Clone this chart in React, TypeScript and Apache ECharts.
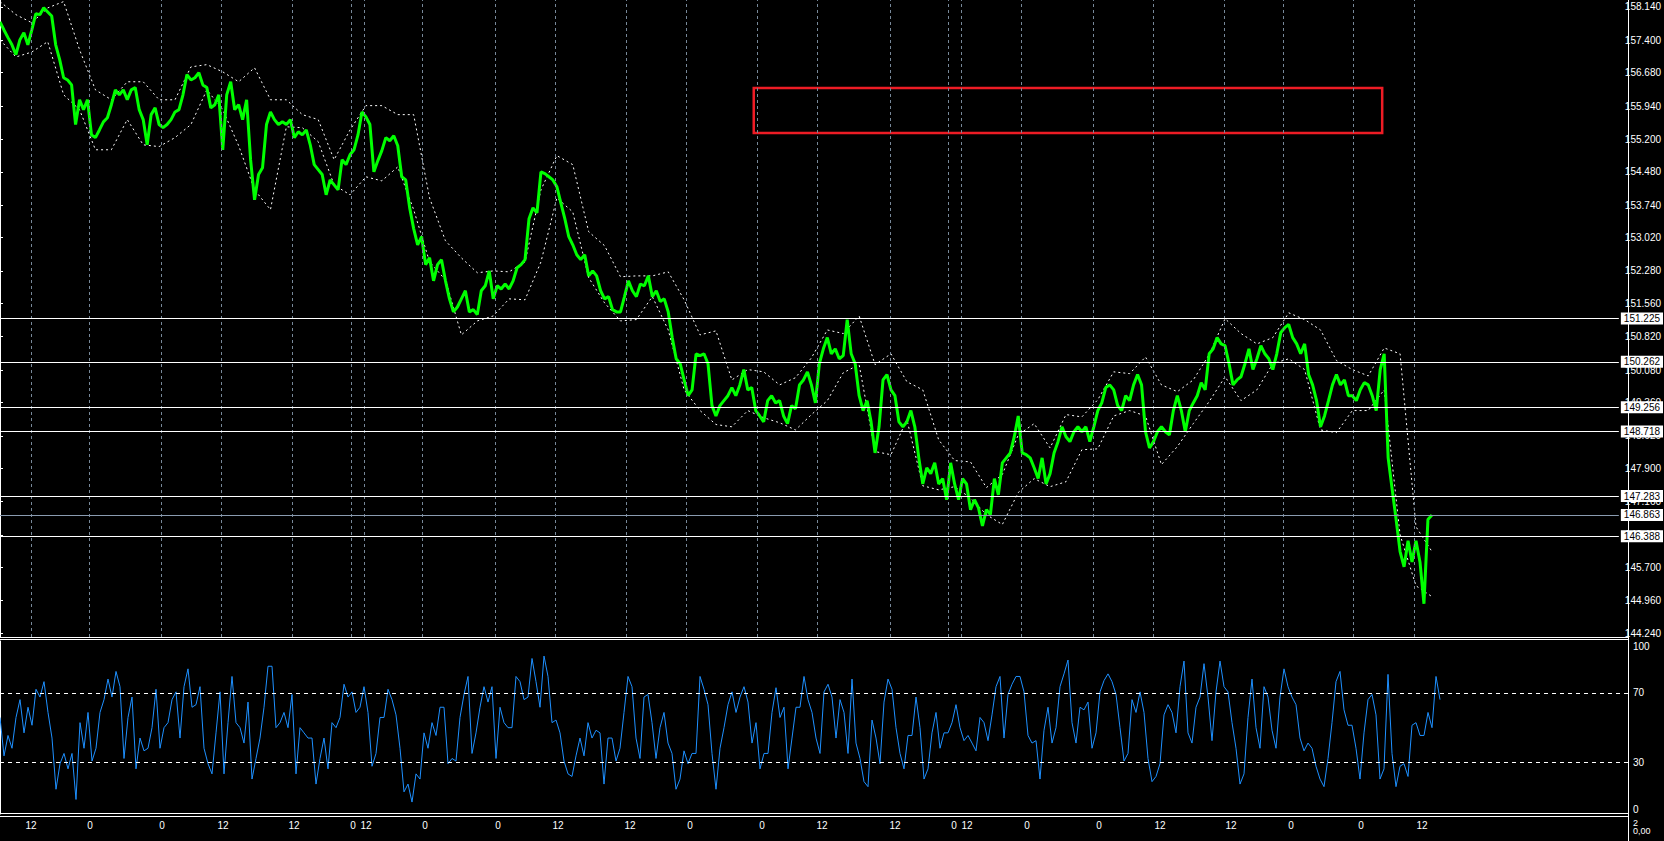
import React, { useEffect, useRef } from "react";
import * as echarts from "echarts";

// ---- data (bar index: one bar per step on the time axis) ----
const closePrices = [
  157.81,157.63,157.46,157.30,157.08,157.41,157.57,157.30,157.63,157.99,
  157.97,158.12,158.03,157.94,157.30,156.97,156.57,156.52,156.41,155.53,
  156.08,155.86,156.08,155.30,155.24,155.41,155.59,155.68,155.97,156.30,
  156.19,156.30,156.08,156.30,156.35,155.86,155.64,155.08,155.75,155.90,
  155.53,155.46,155.53,155.64,155.81,155.86,156.19,156.64,156.52,156.57,
  156.68,156.41,156.35,155.90,155.97,156.19,154.97,156.19,156.48,155.86,
  155.97,155.64,156.08,154.75,153.86,154.42,154.57,155.53,155.81,155.64,
  155.53,155.59,155.53,155.64,155.24,155.37,155.30,155.41,155.08,154.64,
  154.53,154.42,153.97,154.30,154.19,154.08,154.75,154.64,154.86,154.97,
  155.30,155.81,
  155.70,155.53,154.48,154.73,154.95,155.24,155.17,155.28,155.06,154.37,
  154.30,153.68,153.22,152.86,153.04,152.42,152.57,152.06,152.42,152.53,
  152.06,151.66,151.37,151.48,151.66,151.84,151.37,151.42,151.31,151.84,
  151.95,152.28,151.66,151.95,151.88,151.99,151.88,152.06,152.35,152.42,
  152.53,153.44,153.68,153.57,154.48,154.44,154.37,154.30,154.15,153.79,
  153.44,153.04,152.86,152.64,152.53,152.64,152.17,152.28,152.17,151.84,
  151.66,151.71,151.42,151.37,151.37,151.71,152.06,151.84,151.71,151.99,
  151.95,152.17,151.71,151.84,151.60,151.66,151.37,150.80,150.33,150.22,
  149.86,149.51,149.64,150.44,150.40,150.44,150.22,149.29,149.06,149.29,
  149.40,149.51,149.69,149.51,149.75,150.09,149.64,149.69,149.18,149.06,
  148.93,149.40,149.51,149.35,149.40,149.06,148.89,149.29,149.22,149.75,
  149.86,150.04,149.75,149.35,150.22,150.55,150.80,150.44,150.55,150.33,
  150.40,151.20,150.44,150.22,149.51,149.18,149.40,148.93,148.24,148.82,
  149.86,149.98,149.64,149.51,148.93,148.82,148.93,149.18,148.82,148.13,
  147.55,147.91,147.78,148.02,147.55,147.67,147.20,148.02,147.55,147.20,
  147.67,147.55,146.98,147.20,147.02,146.62,146.98,146.87,147.67,147.31,
  148.02,148.13,148.24,148.60,149.06,148.24,148.20,148.13,147.91,147.67,
  148.13,147.55,147.78,148.24,148.49,148.82,148.60,148.49,148.71,148.82,
  148.71,148.82,148.49,148.82,149.18,149.35,149.69,149.75,149.64,149.29,
  149.18,149.51,149.40,149.75,149.98,149.75,148.71,148.35,148.49,148.71,
  148.82,148.71,148.64,149.18,149.51,149.18,148.71,149.18,149.35,149.51,
  149.80,149.64,150.44,150.55,150.80,150.66,150.62,150.22,149.75,149.86,
  149.93,150.22,150.55,150.09,150.33,150.62,150.44,150.33,150.09,150.44,
  150.91,151.02,151.09,150.80,150.66,150.44,150.66,149.98,149.75,149.40,
  148.82,149.06,149.40,149.75,149.98,149.75,149.86,149.51,149.51,149.40,
  149.64,149.80,149.75,149.51,149.18,150.09,150.44,148.13,147.44,146.76,
  146.05,145.71,146.29,145.82,146.29,145.82,144.89,146.76,146.86,
];

// band values, one every BAND_STEP bars
const BAND_STEP = 4;
const upperBand = [
  158.26,157.97,157.79,158.12,158.26,157.19,156.30,156.08,156.48,156.48,156.08,156.08,156.81,156.86,156.70,156.48,156.79,156.08,156.08,155.75,155.64,154.75,155.41,
  155.95,155.95,155.75,155.75,153.90,152.95,152.57,152.24,152.28,152.26,152.48,154.08,154.84,154.64,153.15,152.84,152.15,152.17,152.17,152.26,151.64,150.86,150.95,
  149.86,150.09,150.04,149.75,149.91,150.35,150.97,150.89,151.28,150.20,150.44,149.82,149.64,148.53,148.07,148.04,147.47,147.76,148.64,148.89,148.35,149.09,
  149.04,149.42,150.04,150.00,150.37,149.75,149.60,149.86,150.42,151.22,150.89,150.66,150.80,151.35,151.20,150.97,150.29,150.09,149.95,150.57,150.44,146.60,146.05,
];
const lowerBand = [
  157.41,157.03,157.14,157.37,156.19,155.86,154.97,154.97,155.64,155.08,155.04,155.24,155.53,156.30,155.86,155.06,154.08,153.64,155.48,155.46,155.15,154.19,153.97,
  154.37,154.28,154.59,153.64,152.48,152.08,150.86,151.17,151.28,151.66,151.64,152.48,153.90,153.59,152.13,151.57,151.17,151.20,151.71,150.97,149.64,149.18,148.87,
  148.82,149.18,149.02,148.91,148.75,149.09,149.40,150.02,150.20,148.27,148.20,148.98,147.51,147.42,147.49,147.24,146.87,146.65,147.36,147.67,147.49,147.60,
  148.31,148.33,149.06,149.18,149.06,147.98,148.38,148.89,149.38,149.93,149.40,149.64,150.22,150.33,150.09,148.75,148.69,149.18,149.18,149.64,146.42,145.29,145.05,
];

const rsiValues = [
  55.8,33.6,45.4,38.0,55.8,66.1,46.9,61.7,51.3,72.1,
  67.6,76.5,58.7,43.9,14.3,29.1,35.0,26.1,35.0,8.4,
  52.8,38.0,58.7,30.6,38.0,58.7,66.1,78.0,67.6,82.4,
  73.6,32.1,55.8,67.6,26.1,43.9,36.5,38.0,49.9,72.1,
  38.0,49.9,52.8,66.1,70.6,43.9,73.6,83.9,61.7,63.2,
  73.6,38.0,29.1,23.2,46.9,70.6,23.2,52.8,79.5,52.8,
  49.9,41.0,64.7,20.2,32.1,43.9,61.7,85.4,85.4,49.9,
  52.8,58.7,49.9,69.1,23.2,49.9,46.9,43.9,43.9,17.3,
  32.1,43.9,26.1,52.8,49.9,55.8,75.0,67.6,70.6,58.7,
  61.7,73.6,
  58.7,27.6,35.0,55.8,55.8,72.1,66.1,57.3,38.0,12.8,
  17.3,6.9,23.2,20.2,46.9,38.0,52.8,45.4,61.7,61.7,
  29.1,32.1,30.6,55.8,69.1,79.5,35.0,46.9,61.7,73.6,
  64.7,73.6,32.1,61.7,52.8,49.9,49.9,79.5,76.5,66.1,
  67.6,89.9,76.5,61.7,91.3,79.5,52.8,54.3,46.9,30.6,
  23.2,21.7,33.6,43.9,33.6,52.8,43.9,48.4,46.9,17.3,
  43.9,43.9,30.6,38.0,58.7,79.5,73.6,43.9,32.1,67.6,
  69.1,52.8,32.1,49.9,58.7,41.0,35.0,14.3,20.2,36.5,
  29.1,35.0,35.0,79.5,72.1,63.2,35.0,14.3,38.0,49.9,
  63.2,70.6,58.7,67.6,73.6,64.7,41.0,52.8,26.1,35.0,
  35.0,58.7,73.0,55.8,61.7,26.1,43.9,61.7,61.7,79.5,
  66.1,58.7,43.9,35.0,70.6,75.0,67.6,43.9,66.1,58.7,
  35.0,78.0,41.0,32.1,18.7,15.8,54.3,43.9,29.1,64.7,
  78.0,72.1,49.9,35.0,26.1,45.4,45.4,67.6,49.9,20.2,
  26.1,46.9,58.7,38.0,46.9,46.9,52.8,63.2,49.9,42.4,
  45.4,41.0,36.5,55.8,52.8,42.4,57.3,73.6,79.5,43.9,
  69.1,75.0,79.5,79.5,70.6,45.4,41.0,42.4,20.2,48.4,
  61.7,41.0,49.9,73.6,81.0,89.0,52.8,41.0,61.7,60.2,
  64.7,38.0,46.9,70.6,77.1,81.0,76.5,69.1,49.9,30.6,
  35.0,66.1,58.7,70.6,58.7,32.1,18.7,21.7,29.1,57.3,
  63.2,58.7,46.9,73.6,88.4,46.9,41.0,61.7,67.6,86.9,
  67.6,42.4,70.6,88.4,73.6,70.6,52.8,38.0,17.3,23.2,
  55.8,78.0,49.9,38.0,73.6,67.6,48.4,38.0,67.6,83.9,
  73.6,67.6,63.2,43.9,36.5,41.0,38.0,27.6,20.2,15.8,
  32.1,52.8,76.5,82.4,60.2,51.3,51.3,38.0,20.2,46.9,
  66.1,69.1,57.3,20.2,26.1,80.7,35.0,15.8,27.6,29.1,
  21.7,51.3,52.8,45.4,45.4,58.7,49.9,79.5,66.1,
];

const priceTicks = [
  158.14, 157.4, 156.68, 155.94, 155.2, 154.48, 153.74, 153.02, 152.28, 151.56,
  150.82, 150.08, 149.36, 148.62, 147.9, 147.16, 146.42, 145.7, 144.96, 144.24,
];
const priceMin = 144.153;
const priceMax = 158.295;
const levelLines = [151.225, 150.262, 149.256, 148.718, 147.283, 146.863, 146.388];
const bidLevel = 146.863;
const rsiTicks = [0, 30, 70, 100];
const rsiLevels = [30, 70];
const timeMarks = [
  7.75, 22.5, 40.5, 55.75, 73.5, 88.25, 91.5, 106.25, 124.5, 139.5, 157.5, 172.5,
  190.5, 205.5, 223.75, 238.5, 241.75, 256.75, 274.75, 290, 307.75, 322.75, 340.25, 355.5,
];
const timeLabels = [
  "12", "0", "0", "12", "12", "0", "12", "0", "0", "12", "12", "0",
  "0", "12", "12", "0", "12", "0", "0", "12", "12", "0", "0", "12",
];
const axisBars = 407;
const rectObject = { start: 189.5, end: 347.5, top: 156.34, bottom: 155.34 };
const extraScale = ["2", "0,00"];

const FONT = "Liberation Sans";

export default function App() {
  const ref = useRef<HTMLDivElement>(null);
  useEffect(() => {
    if (!ref.current) return;
    const chart = echarts.init(ref.current, undefined, { renderer: "svg" });
    const labelFor = (v: number) => {
      const k = timeMarks.findIndex((t) => Math.abs(t - v) < 1e-6);
      return k >= 0 ? timeLabels[k] : "";
    };
    const option: any = {
      animation: false,
      backgroundColor: "#000000",
      textStyle: { fontFamily: FONT },
      grid: [
        { left: 0, top: 0, width: 1628, height: 637 },
        { left: 0, top: 641, width: 1628, height: 173 },
      ],
      xAxis: [
        { type: "value", gridIndex: 0, min: 0, max: axisBars, show: false },
        {
          type: "value",
          gridIndex: 1,
          min: 0,
          max: axisBars,
          axisLine: { show: false },
          axisTick: { show: false },
          splitLine: { show: false },
          axisLabel: {
            customValues: timeMarks,
            formatter: (v: number) => labelFor(v),
            color: "#ffffff",
            fontSize: 10,
            fontFamily: FONT,
            margin: 6,
          },
        },
      ],
      yAxis: [
        {
          type: "value",
          gridIndex: 0,
          position: "right",
          min: priceMin,
          max: priceMax,
          splitLine: { show: false },
          axisLine: { show: true, lineStyle: { color: "#ffffff", width: 1 } },
          axisTick: { show: true, length: 3, customValues: priceTicks, lineStyle: { color: "#ffffff" } },
          axisLabel: {
            customValues: priceTicks,
            formatter: (v: number) => v.toFixed(3),
            color: "#ffffff",
            fontSize: 10,
            fontFamily: FONT,
            margin: 6,
          },
        },
        {
          type: "value",
          gridIndex: 1,
          position: "right",
          min: 0,
          max: 100,
          splitLine: { show: false },
          axisLine: { show: true, lineStyle: { color: "#ffffff", width: 1 } },
          axisTick: { show: false },
          axisLabel: {
            customValues: rsiTicks,
            color: "#ffffff",
            fontSize: 10,
            fontFamily: FONT,
            margin: 5,
            verticalAlignMinLabel: "bottom",
            verticalAlignMaxLabel: "top",
          },
        },
      ],
      series: [
        {
          name: "grid",
          type: "line",
          xAxisIndex: 0,
          yAxisIndex: 0,
          data: [],
          z: 1,
          clip: false,
          markLine: {
            silent: true,
            symbol: ["none", "none"],
            label: { show: false },
            lineStyle: { color: "#778899", type: [3, 3], width: 1 },
            data: timeMarks.map((v) => ({ xAxis: v })),
          },
          markArea: {
            silent: true,
            itemStyle: { color: "rgba(0,0,0,0)", borderColor: "#ee1c25", borderWidth: 2.5 },
            data: [[
              { xAxis: rectObject.start, yAxis: rectObject.top },
              { xAxis: rectObject.end, yAxis: rectObject.bottom },
            ]],
          },
        },
        {
          name: "levels",
          type: "line",
          xAxisIndex: 0,
          yAxisIndex: 0,
          data: [],
          z: 2,
          clip: false,
          markLine: {
            silent: true,
            symbol: ["none", "none"],
            precision: 3,
            lineStyle: { color: "#ffffff", type: "solid", width: 1 },
            label: {
              show: true,
              position: "end",
              distance: 2,
              formatter: "{b}",
              backgroundColor: "#ffffff",
              color: "#000000",
              fontSize: 10,
              fontFamily: FONT,
              padding: [1, 3, 1, 3],
            },
            data: levelLines.map((v) => ({
              name: v.toFixed(3),
              yAxis: v,
              lineStyle: { color: v === bidLevel ? "#8a9bb0" : "#ffffff" },
            })),
          },
        },
        {
          name: "upper",
          type: "line",
          xAxisIndex: 0,
          yAxisIndex: 0,
          z: 3,
          symbol: "none",
          data: upperBand.map((v, i) => [i * BAND_STEP, v]),
          lineStyle: { color: "#ffffff", width: 1, type: [2, 3] },
        },
        {
          name: "lower",
          type: "line",
          xAxisIndex: 0,
          yAxisIndex: 0,
          z: 3,
          symbol: "none",
          data: lowerBand.map((v, i) => [i * BAND_STEP, v]),
          lineStyle: { color: "#ffffff", width: 1, type: [2, 3] },
        },
        {
          name: "price",
          type: "line",
          xAxisIndex: 0,
          yAxisIndex: 0,
          z: 4,
          symbol: "none",
          data: closePrices.map((v, i) => [i, v]),
          lineStyle: { color: "#00ff00", width: 3 },
        },
        {
          name: "rsi",
          type: "line",
          xAxisIndex: 1,
          yAxisIndex: 1,
          z: 4,
          symbol: "none",
          data: rsiValues.map((v, i) => [i, v]),
          lineStyle: { color: "#1e90ff", width: 1 },
          markLine: {
            silent: true,
            symbol: ["none", "none"],
            label: { show: false },
            lineStyle: { color: "#ffffff", type: [4, 4], width: 1 },
            data: rsiLevels.map((v) => ({ yAxis: v })),
          },
        },
      ],
      graphic: [
        { type: "line", shape: { x1: 0, y1: 637.5, x2: 1628, y2: 637.5 }, style: { stroke: "#ffffff", lineWidth: 1 } },
        { type: "line", shape: { x1: 0, y1: 639.5, x2: 1628, y2: 639.5 }, style: { stroke: "#ffffff", lineWidth: 1 } },
        { type: "line", shape: { x1: 0, y1: 813.5, x2: 1628, y2: 813.5 }, style: { stroke: "#ffffff", lineWidth: 1 } },
        { type: "line", shape: { x1: 0, y1: 816.5, x2: 1628, y2: 816.5 }, style: { stroke: "#ffffff", lineWidth: 1 } },
        { type: "line", shape: { x1: 1628.5, y1: 0, x2: 1628.5, y2: 841 }, style: { stroke: "#ffffff", lineWidth: 1 } },
        { type: "text", left: 1633, top: 818, style: { text: extraScale[0], fill: "#ffffff", font: `9px '${FONT}'` } },
        { type: "text", left: 1633, top: 826, style: { text: extraScale[1], fill: "#ffffff", font: `9px '${FONT}'` } },
      ],
    };
    chart.setOption(option);
    return () => chart.dispose();
  }, []);
  return (
    <div
      ref={ref}
      style={{ position: "fixed", left: 0, top: 0, width: 1664, height: 841, background: "#000" }}
    />
  );
}
